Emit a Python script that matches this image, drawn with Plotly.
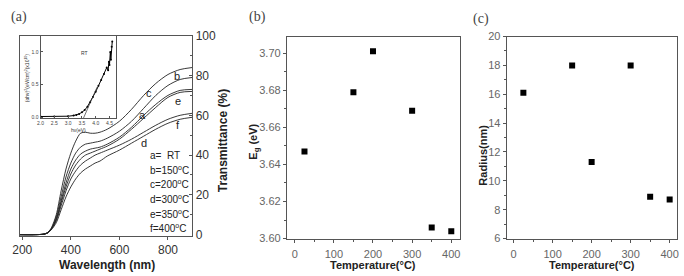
import plotly.graph_objects as go

# ---------------- data ----------------
wavelength = [190, 250, 290, 305, 320, 340, 360, 380, 400, 420, 440, 460, 480, 500, 520,
              550, 600, 650, 700, 750, 800, 850, 900]
T_a = [0, 0, 0.3, 1.0, 3, 8, 17, 26, 33, 37.5, 40.5, 42, 43, 43.5, 44, 45.5, 49, 54, 60, 65.5, 70, 72.5, 73]
T_b = [0, 0, 0.3, 1.0, 3, 9, 19, 29, 36, 41, 44, 45.5, 46, 46.5, 47, 48.5, 52, 57, 63.5, 70, 75, 78, 79]
T_c = [0, 0, 0.3, 1.0, 3.5, 10, 22, 33, 41, 47, 51, 51.5, 51, 51, 51.5, 53, 57, 63, 70, 76, 80.5, 83, 84]
T_d = [0, 0, 0.3, 1.0, 2.5, 6, 12.5, 19, 24, 28, 31, 33, 34.5, 36, 37, 39.5, 42.5, 46, 49.5, 53, 56, 58, 59]
T_e = [0, 0, 0.3, 1.0, 3, 7.5, 16, 24, 30.5, 35, 38, 40, 41, 42, 43, 44.5, 48, 53, 58.5, 64, 69, 71.5, 72]
T_f = [0, 0, 0.3, 1.0, 2.8, 7, 14.5, 22, 28, 32, 35, 37, 38.5, 40, 41, 42.5, 45, 48, 51.5, 55, 58, 60, 61]
curve_labels = ["a", "b", "c", "d", "e", "f"]
legend_lines = ["a=  RT", "b=150<sup>o</sup>C", "c=200<sup>o</sup>C", "d=300<sup>o</sup>C",
                "e=350<sup>o</sup>C", "f=400<sup>o</sup>C"]

# inset (Tauc plot, RT)
hv = [2.0, 2.5, 3.0, 3.2, 3.3, 3.4, 3.5, 3.6, 3.7, 3.8, 3.9, 4.0, 4.1, 4.2, 4.3, 4.4,
      4.45, 4.48, 4.5, 4.53, 4.55, 4.58, 4.6]
ahv2 = [0.01, 0.01, 0.015, 0.025, 0.035, 0.05, 0.075, 0.11, 0.16, 0.23, 0.31, 0.39, 0.48,
        0.57, 0.66, 0.76, 0.72, 0.85, 0.80, 1.0, 0.88, 1.08, 1.16]
tangent_hv = [3.52, 4.05]
tangent_val = [-0.05, 0.46]

# panels b, c
temperature = [25, 150, 200, 300, 350, 400]
Eg = [3.647, 3.679, 3.701, 3.669, 3.606, 3.604]
radius = [16.1, 18.0, 11.3, 18.0, 8.9, 8.7]

# ---------------- figure ----------------
W, H = 684, 276
def px(x):
    return x / W
def py(y):
    return 1 - y / H

fig = go.Figure()
line_col = "#222222"
for T in [T_a, T_b, T_c, T_d, T_e, T_f]:
    fig.add_trace(go.Scatter(x=wavelength, y=T, mode="lines", line=dict(color=line_col, width=0.9, shape="spline", smoothing=0.8),
                             xaxis="x", yaxis="y", showlegend=False, hoverinfo="skip"))

fig.add_trace(go.Scatter(x=hv, y=ahv2, mode="lines+markers", line=dict(color="#000", width=1),
                         marker=dict(size=2, color="#000"), xaxis="x2", yaxis="y2", showlegend=False))
fig.add_trace(go.Scatter(x=tangent_hv, y=tangent_val, mode="lines", line=dict(color="#333", width=0.7),
                         xaxis="x2", yaxis="y2", showlegend=False, cliponaxis=False))

fig.add_trace(go.Scatter(x=temperature, y=Eg, mode="markers", marker=dict(symbol="square", size=6, color="#000"),
                         xaxis="x3", yaxis="y3", showlegend=False))
fig.add_trace(go.Scatter(x=temperature, y=radius, mode="markers", marker=dict(symbol="square", size=6, color="#000"),
                         xaxis="x4", yaxis="y4", showlegend=False))

frame = "#555555"
tick_font_a = dict(family="Liberation Sans, Arial", size=12, color="#333")
tick_font_bc = dict(family="Liberation Sans, Arial", size=11, color="#666")
ytop = py(31)

common = dict(showline=True, linecolor=frame, linewidth=1, mirror=True, showgrid=False, zeroline=False,
              ticks="outside", ticklen=3, tickcolor=frame)
common_in = dict(showline=True, linecolor=frame, linewidth=1, mirror=True, showgrid=False, zeroline=False,
                 ticks="inside", ticklen=3, tickcolor=frame)

fig.update_layout(
    width=W, height=H, margin=dict(l=0, r=0, t=0, b=0),
    paper_bgcolor="white", plot_bgcolor="white",
    xaxis=dict(domain=[px(12), px(187)], range=[190, 900], tickvals=[200, 400, 600, 800],
               tickfont=tick_font_a, anchor="y", ticklabelstandoff=0, **common),
    yaxis=dict(domain=[py(240), py(30)], range=[-0.5, 100.05], tickvals=[0, 20, 40, 60, 80, 100], side="right",
               tickfont=tick_font_a, anchor="x", minor=dict(ticks="inside", ticklen=2, dtick=10, tickcolor=frame),
               **common_in),
    xaxis2=dict(domain=[px(33), px(110)], range=[2.0, 4.75], tickvals=[2.0, 2.5, 3.0, 3.5, 4.0, 4.5],
                ticktext=["2.0", "2.5", "3.0", "3.5", "4.0", "4.5"],
                tickfont=dict(family="Liberation Sans", size=5, color="#444"), anchor="y2",
                showline=True, linecolor=frame, linewidth=1, mirror=True, showgrid=False, zeroline=False,
                ticks="inside", ticklen=2, tickcolor=frame),
    yaxis2=dict(domain=[py(117), py(30)], range=[-0.02, 1.25], tickvals=[0.0, 0.5, 1.0],
                ticktext=["0.0", "0.5", "1.0"],
                tickfont=dict(family="Liberation Sans", size=5, color="#444"), anchor="x2",
                showline=True, linecolor=frame, linewidth=1, mirror=True, showgrid=False, zeroline=False,
                ticks="inside", ticklen=2, tickcolor=frame),
    xaxis3=dict(domain=[px(283), px(459)], range=[-20, 423], tickvals=[0, 100, 200, 300, 400],
                tickfont=tick_font_bc, anchor="y3", ticklabelstandoff=2,
                minor=dict(ticks="outside", ticklen=2, dtick=50, tickcolor=frame), **common),
    yaxis3=dict(domain=[py(243), ytop], range=[3.60, 3.709], tickvals=[3.60, 3.62, 3.64, 3.66, 3.68, 3.70],
                ticktext=["3.60", "3.62", "3.64", "3.66", "3.68", "3.70"],
                tickfont=tick_font_bc, anchor="x3", minor=dict(ticks="outside", ticklen=2, dtick=0.01, tickcolor=frame),
                **common),
    xaxis4=dict(domain=[px(506), px(679)], range=[-18, 419], tickvals=[0, 100, 200, 300, 400],
                tickfont=tick_font_bc, anchor="y4", ticklabelstandoff=2,
                minor=dict(ticks="outside", ticklen=2, dtick=50, tickcolor=frame), **common),
    yaxis4=dict(domain=[py(243), ytop], range=[6, 20], tickvals=[6, 8, 10, 12, 14, 16, 18, 20],
                tickfont=tick_font_bc, anchor="x4", minor=dict(ticks="outside", ticklen=2, dtick=1, tickcolor=frame),
                **common),
)

ann = []
def A(x, y, text, size=12, color="#222", bold=False, angle=0, family="Liberation Sans, Arial",
      xanchor="center", yanchor="middle", yshift=0):
    if bold:
        text = "<b>" + text + "</b>"
    ann.append(dict(x=px(x), y=py(y), xref="paper", yref="paper", text=text, showarrow=False,
                    font=dict(family=family, size=size, color=color), textangle=angle,
                    xanchor=xanchor, yanchor=yanchor, borderpad=0, yshift=yshift))

# panel labels
A(11, 11, "(a)", size=14, color="#444", family="Liberation Serif")
A(253, 11, "(b)", size=14, color="#444", family="Liberation Serif")
A(480, 13, "(c)", size=14, color="#444", family="Liberation Serif")

# axis titles (anchored to the bottom edge of the page)
A(100, 276, "Wavelength (nm)", size=12, bold=True, yanchor="bottom", yshift=-3)
A(219, 140, "Transmittance (%)", size=12, bold=True, angle=-90)
A(370, 276, "Temperature(°C)", size=11, bold=True, yanchor="bottom", yshift=-2)
A(250, 141, "E<sub>g</sub> (eV)", size=11, bold=True, angle=-90)
A(593, 276, "Temperature(°C)", size=11, bold=True, yanchor="bottom", yshift=-2)
A(482, 155, "Radius(nm)", size=11, bold=True, angle=-90)

# inset annotations
A(78, 48, "RT", size=5, color="#333")
A(72, 129, "hν(eV)", size=5, color="#333")
A(19, 74, "(αhν)<sup>2</sup>(eV/cm)<sup>2</sup>(x10<sup>10</sup>)", size=5, color="#333", angle=-90)

# curve labels
label_pos = {"c": (143, 90), "b": (172, 72), "a": (137, 113), "e": (173, 99), "f": (173, 124), "d": (138, 143)}
for lab in curve_labels:
    x, y = label_pos[lab]
    A(x, y, lab, size=11, color="#222")

# legend text
leg_y = [156, 171, 186, 201, 217, 232]
for t, y in zip(legend_lines, leg_y):
    A(143, y, t, size=10, color="#222", xanchor="left")

fig.update_layout(annotations=ann)
fig.write_html("out.html")
